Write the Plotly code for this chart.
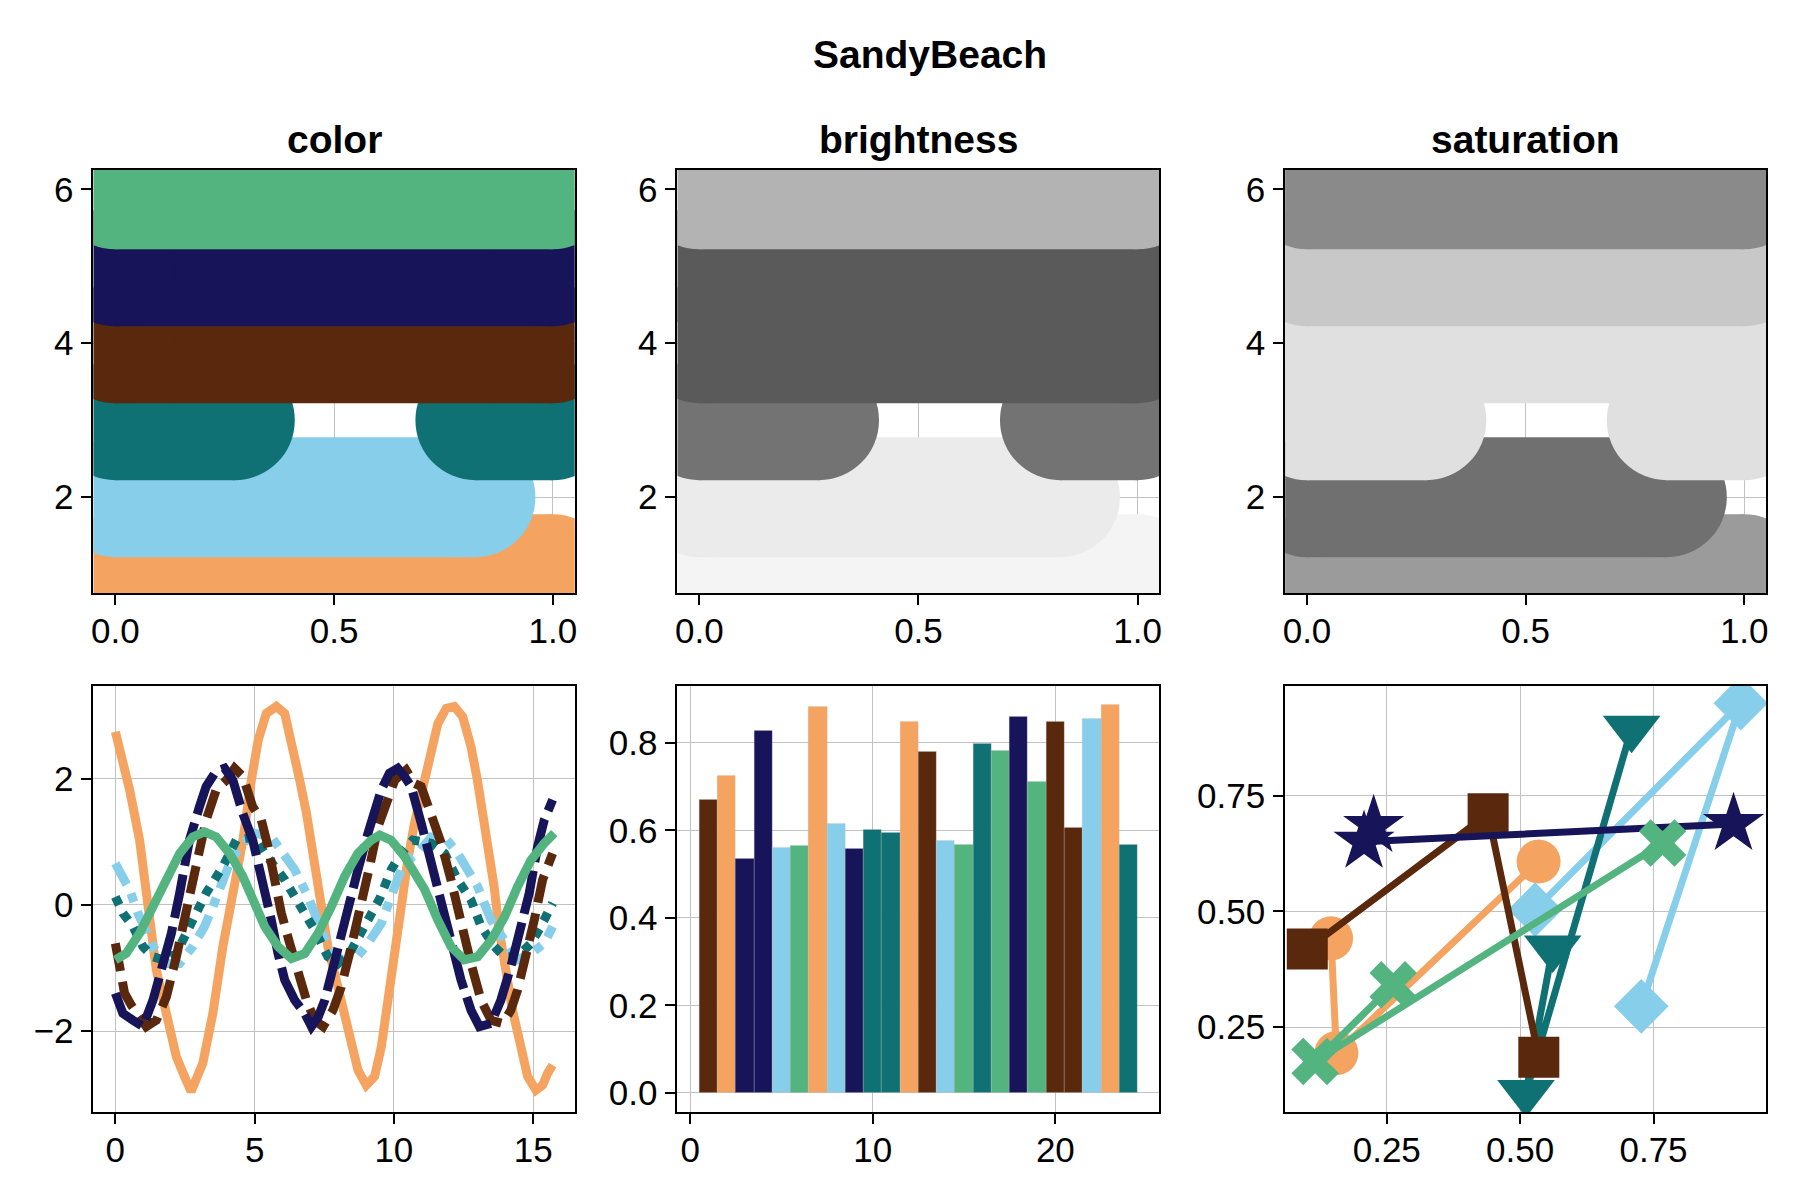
import plotly.graph_objects as go

# ---------------- data ----------------
PALETTE = ["orange", "lightblue", "teal", "brown", "navy", "green"]
COLOR = {"orange": "#F4A460", "lightblue": "#87CEEB", "teal": "#0F7174",
         "brown": "#5A280C", "navy": "#17145A", "green": "#53B480"}
BRIGHTNESS = {"orange": "#f4f4f4", "lightblue": "#ebebeb", "teal": "#737373",
              "brown": "#5a5a5a", "navy": "#5a5a5a", "green": "#b3b3b3"}
SATURATION = {"orange": "#9b9b9b", "lightblue": "#707070", "teal": "#e0e0e0",
              "brown": "#e0e0e0", "navy": "#c8c8c8", "green": "#8a8a8a"}

# top row: thick bands (one per palette colour)
band_level = [1, 2, 3, 4, 5, 6]
band_x = [
    [0.0, 1.0],
    [0.0, 0.823],
    [0.0, 0.273, None, 0.823, 1.0],
    [0.0, 1.0],
    [0.0, 1.0],
    [0.0, 1.0],
]

# bottom-left: noisy waves
wave_x = {
    "orange": [0.0, 0.21, 0.51, 0.87, 1.17, 1.47, 1.83, 2.19, 2.54, 2.72, 3.14, 3.5, 3.86, 4.22, 4.58,
               4.89, 5.13, 5.42, 5.78, 6.08, 6.32, 6.62, 6.86, 7.09, 7.33, 7.63, 7.93, 8.23, 8.47, 8.71,
               9.01, 9.31, 9.55, 9.79, 10.03, 10.26, 10.5, 10.74, 11.1, 11.34, 11.58, 11.88, 12.17, 12.47,
               12.77, 13.0, 13.19, 13.43, 13.6, 13.78, 14.02, 14.26, 14.56, 14.8, 15.1, 15.34, 15.52, 15.7],
    "lightblue": [0, 0.27, 0.51, 0.81, 0.99, 1.35, 1.83, 2.31, 2.78, 3.2, 3.5, 3.74, 4.1, 4.46, 4.81,
                  5.0, 5.6, 5.96, 6.44, 6.92, 7.28, 7.63, 8.11, 8.59, 9.07, 9.55, 9.9, 10.26, 10.5, 10.86,
                  11.34, 11.82, 12.29, 12.77, 13.01, 13.49, 13.97, 14.44, 14.92, 15.4, 15.7],
    "teal": [0, 0.27, 0.63, 0.99, 1.35, 1.71, 2.19, 2.66, 3.02, 3.26, 3.56, 3.86, 4.34, 4.81, 5.0,
             5.36, 5.72, 6.08, 6.44, 6.8, 7.16, 7.63, 7.99, 8.47, 8.83, 9.19, 9.49, 9.9, 10.26, 10.68,
             11.34, 11.82, 12.29, 12.77, 13.13, 13.61, 13.97, 14.44, 14.92, 15.28, 15.7],
    "brown": [0, 0.15, 0.33, 0.57, 0.87, 1.11, 1.47, 1.83, 2.19, 2.54, 2.9, 3.26, 3.62, 3.98, 4.28,
              4.58, 4.93, 5.24, 5.48, 5.72, 5.96, 6.26, 6.56, 6.86, 7.16, 7.46, 7.81, 8.11, 8.47, 8.83,
              9.13, 9.43, 9.73, 10.03, 10.44, 10.74, 10.98, 11.34, 11.7, 12.05, 12.41, 12.77, 13.13,
              13.49, 13.91, 14.2, 14.44, 14.74, 15.04, 15.34, 15.7],
    "navy": [0, 0.27, 0.63, 0.99, 1.35, 1.71, 2.01, 2.31, 2.66, 3.02, 3.26, 3.61, 3.92, 4.22, 4.39,
             4.57, 4.93, 5.17, 5.36, 5.6, 5.84, 6.08, 6.44, 6.8, 7.04, 7.28, 7.52, 7.75, 7.99, 8.35,
             8.71, 9.07, 9.31, 9.55, 9.84, 10.14, 10.38, 10.62, 10.98, 11.34, 11.7, 12.05, 12.41, 12.77,
             13.07, 13.49, 13.84, 14.2, 14.56, 14.86, 15.16, 15.4, 15.7],
    "green": [0, 0.39, 0.87, 1.35, 1.83, 2.31, 2.78, 3.2, 3.62, 4.1, 4.58, 5.05, 5.36, 5.84, 6.32,
              6.8, 7.28, 7.75, 8.23, 8.71, 9.19, 9.49, 9.9, 10.38, 10.86, 11.1, 11.58, 12.05, 12.53,
              13.01, 13.49, 13.97, 14.44, 14.92, 15.4, 15.76],
}
wave_y = {
    "orange": [2.75, 2.41, 1.83, 1.03, -0.03, -1.03, -1.72, -2.41, -2.78, -2.96, -2.51, -1.72, -0.66, 0.19,
               1.03, 2.0, 2.62, 3.04, 3.15, 3.04, 2.62, 1.98, 1.46, 0.82, 0.08, -0.66, -1.19, -1.72, -2.25,
               -2.62, -2.86, -2.72, -2.25, -1.46, -0.66, 0.13, 0.71, 1.3, 1.98, 2.51, 2.88, 3.12, 3.15,
               2.99, 2.51, 1.98, 1.46, 0.93, 0.29, -0.40, -1.08, -1.67, -2.25, -2.72, -2.94, -2.86, -2.67,
               -2.54],
    "lightblue": [0.66, 0.45, 0.24, -0.13, -0.34, -0.66, -0.93, -0.93, -0.66, -0.34, -0.03, 0.24, 0.66,
                  0.93, 1.08, 1.14, 1.08, 0.87, 0.56, 0.13, -0.24, -0.66, -0.87, -0.87, -0.61, -0.29, 0.13,
                  0.56, 0.71, 0.82, 1.08, 1.08, 0.82, 0.50, 0.29, -0.24, -0.56, -0.87, -0.77, -0.61, -0.34],
    "teal": [0.13, -0.13, -0.34, -0.66, -0.82, -0.87, -0.77, -0.34, -0.03, 0.19, 0.40, 0.61, 1.03, 1.08,
             1.08, 0.82, 0.61, 0.40, 0.13, -0.13, -0.40, -0.82, -0.93, -0.72, -0.45, -0.13, 0.10, 0.56,
             0.82, 1.03, 0.98, 0.82, 0.40, 0.08, -0.34, -0.66, -0.82, -0.82, -0.61, -0.34, 0.03],
    "brown": [-0.61, -1.03, -1.40, -1.59, -1.77, -1.93, -1.83, -1.46, -0.82, -0.13, 0.61, 1.35, 1.83, 1.98,
              2.17, 2.04, 1.56, 1.35, 0.93, 0.40, -0.13, -0.61, -1.08, -1.51, -1.83, -1.93, -1.67, -1.30,
              -0.66, -0.03, 0.61, 1.24, 1.67, 1.98, 2.14, 1.93, 1.88, 1.46, 0.98, 0.40, -0.29, -0.93,
              -1.51, -1.83, -1.88, -1.67, -1.35, -0.82, -0.24, 0.40, 0.82],
    "navy": [-1.40, -1.72, -1.83, -1.93, -1.51, -0.98, -0.45, 0.19, 1.03, 1.56, 1.88, 2.12, 2.17, 1.98,
             1.72, 1.46, 1.03, 0.61, 0.19, -0.24, -0.77, -1.19, -1.51, -1.72, -1.93, -1.78, -1.51, -1.08,
             -0.66, -0.03, 0.56, 1.14, 1.46, 1.83, 2.09, 2.17, 2.04, 1.88, 1.30, 0.66, -0.03, -0.66,
             -1.19, -1.67, -1.93, -1.88, -1.51, -0.98, -0.40, 0.19, 0.93, 1.35, 1.67],
    "green": [-0.87, -0.77, -0.45, -0.03, 0.45, 0.82, 1.08, 1.16, 1.08, 0.82, 0.45, -0.03, -0.34, -0.66,
              -0.85, -0.77, -0.45, -0.03, 0.45, 0.82, 1.03, 1.11, 1.03, 0.77, 0.42, 0.25, -0.24, -0.66,
              -0.87, -0.82, -0.56, -0.19, 0.29, 0.71, 0.98, 1.14],
}
wave_dash = {"orange": "solid", "lightblue": "24px,10px,9px,10px", "teal": "9px,9px",
             "brown": "28px,11px", "navy": "44px,9px", "green": "solid"}

# bottom-middle: bars
bar_x = list(range(1, 25))
bar_values = [0.669, 0.724, 0.534, 0.828, 0.561, 0.564, 0.882, 0.616, 0.557, 0.601, 0.594, 0.847,
              0.779, 0.577, 0.568, 0.797, 0.782, 0.860, 0.710, 0.847, 0.606, 0.856, 0.886, 0.566]
bar_colors = ["brown", "orange", "navy", "navy", "lightblue", "green", "orange", "lightblue", "navy",
              "teal", "teal", "orange", "brown", "lightblue", "green", "teal", "green", "navy", "green",
              "brown", "brown", "lightblue", "orange", "teal"]

# bottom-right: scatter lines
sc_x = {"orange": [0.1456, 0.1556, 0.5346], "lightblue": [0.528, 0.9136, 0.727],
        "teal": [0.561, 0.511, 0.709], "brown": [0.101, 0.440, 0.535],
        "navy": [0.2254, 0.2074, 0.900], "green": [0.262, 0.1157, 0.767]}
sc_y = {"orange": [0.442, 0.194, 0.608], "lightblue": [0.504, 0.950, 0.295],
        "teal": [0.421, 0.109, 0.896], "brown": [0.419, 0.711, 0.185],
        "navy": [0.685, 0.651, 0.689], "green": [0.3415, 0.176, 0.648]}
sc_symbol = {"orange": "circle", "lightblue": "diamond", "teal": "triangle-down",
             "brown": "square", "navy": "star", "green": "x"}
sc_size = {"orange": 44, "lightblue": 42, "teal": 50, "brown": 41, "navy": 46, "green": 42}

# ---------------- figure ----------------
FONT = "Liberation Sans"
W, H = 1800, 1200
cols_px = [(91.7, 574.0), (677.0, 1160.0), (1286.0, 1768.0)]
rows_px = [(170.0, 593.4), (685.7, 1112.3)]


def xdom(c):
    return [cols_px[c][0] / W, cols_px[c][1] / W]


def ydom(r):
    return [1 - rows_px[r][1] / H, 1 - rows_px[r][0] / H]


fig = go.Figure()

# top row
panel_colors = [COLOR, BRIGHTNESS, SATURATION]
for c in range(3):
    ax = str(c + 1) if c > 0 else ""
    for i, name in enumerate(PALETTE):
        xs = band_x[i]
        ys = [band_level[i] if v is not None else None for v in xs]
        col = panel_colors[c][name]
        fig.add_trace(go.Scatter(
            x=xs, y=ys, mode="lines+markers", connectgaps=False,
            line=dict(color=col, width=120),
            marker=dict(size=120, color=col, line=dict(width=0)),
            xaxis="x" + ax, yaxis="y" + ax, showlegend=False, hoverinfo="skip"))

# bottom-left waves
for name in PALETTE:
    fig.add_trace(go.Scatter(
        x=wave_x[name], y=wave_y[name], mode="lines",
        line=dict(color=COLOR[name], width=9, dash=wave_dash[name]),
        xaxis="x4", yaxis="y4", showlegend=False))

# bottom-middle bars
fig.add_trace(go.Bar(
    x=bar_x, y=bar_values, width=1.0,
    marker=dict(color=[COLOR[n] for n in bar_colors],
                line=dict(color="rgba(190,190,190,0.45)", width=0.6)),
    xaxis="x5", yaxis="y5", showlegend=False))

# bottom-right scatterlines
for name in PALETTE:
    fig.add_trace(go.Scatter(
        x=sc_x[name], y=sc_y[name], mode="lines+markers",
        line=dict(color=COLOR[name], width=7),
        marker=dict(symbol=sc_symbol[name], size=sc_size[name], color=COLOR[name],
                    line=dict(width=0)),
        xaxis="x6", yaxis="y6", showlegend=False))


def axis(domain, rng, vals, texts, anchor, standoff):
    return dict(domain=domain, range=rng, tickvals=vals, ticktext=texts, anchor=anchor,
                showline=True, linecolor="black", linewidth=2, mirror=True,
                ticks="outside", ticklen=10, tickwidth=1.6, tickcolor="black",
                showgrid=True, gridcolor="#c2c2c2", gridwidth=1.2, zeroline=False,
                tickfont=dict(family=FONT, size=35, color="black"),
                ticklabelstandoff=standoff, fixedrange=True)


top_xv, top_xt = [0, 0.5, 1.0], ["0.0", "0.5", "1.0"]
top_yv, top_yt = [2, 4, 6], ["2", "4", "6"]
XS, YS = -4, 1
layout_axes = {}
for c in range(3):
    k = "" if c == 0 else str(c + 1)
    layout_axes["xaxis" + k] = axis(xdom(c), [-0.05, 1.05], top_xv, top_xt, "y" + k, XS)
    layout_axes["yaxis" + k] = axis(ydom(0), [0.75, 6.25], top_yv, top_yt, "x" + k, YS)

layout_axes["xaxis4"] = axis(xdom(0), [-0.785, 16.493], [0, 5, 10, 15], ["0", "5", "10", "15"], "y4", XS)
layout_axes["yaxis4"] = axis(ydom(1), [-3.29, 3.48], [-2, 0, 2], ["\u22122", "0", "2"], "x4", YS)
layout_axes["xaxis5"] = axis(xdom(1), [-0.7, 25.7], [0, 10, 20], ["0", "10", "20"], "y5", XS)
layout_axes["yaxis5"] = axis(ydom(1), [-0.0443, 0.9303], [0, 0.2, 0.4, 0.6, 0.8],
                             ["0.0", "0.2", "0.4", "0.6", "0.8"], "x5", YS)
layout_axes["xaxis6"] = axis(xdom(2), [0.0595, 0.961], [0.25, 0.5, 0.75], ["0.25", "0.50", "0.75"], "y6", XS)
layout_axes["yaxis6"] = axis(ydom(1), [0.066, 0.988], [0.25, 0.5, 0.75], ["0.25", "0.50", "0.75"], "x6", YS)

annotations = [dict(text="SandyBeach", x=930 / W, y=1 - 55 / H, xref="paper", yref="paper",
                    showarrow=False, xanchor="center", yanchor="middle",
                    font=dict(family=FONT, size=39, color="black", weight="bold"))]
for c, t in enumerate(["color", "brightness", "saturation"]):
    annotations.append(dict(text=t, x=(cols_px[c][0] + cols_px[c][1]) / 2 / W, y=1 - 139 / H,
                            xref="paper", yref="paper", showarrow=False,
                            xanchor="center", yanchor="middle",
                            font=dict(family=FONT, size=39, color="black", weight="bold")))

fig.update_layout(width=W, height=H, margin=dict(l=0, r=0, t=0, b=0),
                  paper_bgcolor="white", plot_bgcolor="white", bargap=0,
                  annotations=annotations, showlegend=False, **layout_axes)

fig.write_html("out.html", config={"displayModeBar": False},
               post_script="document.body.style.margin='0';")
